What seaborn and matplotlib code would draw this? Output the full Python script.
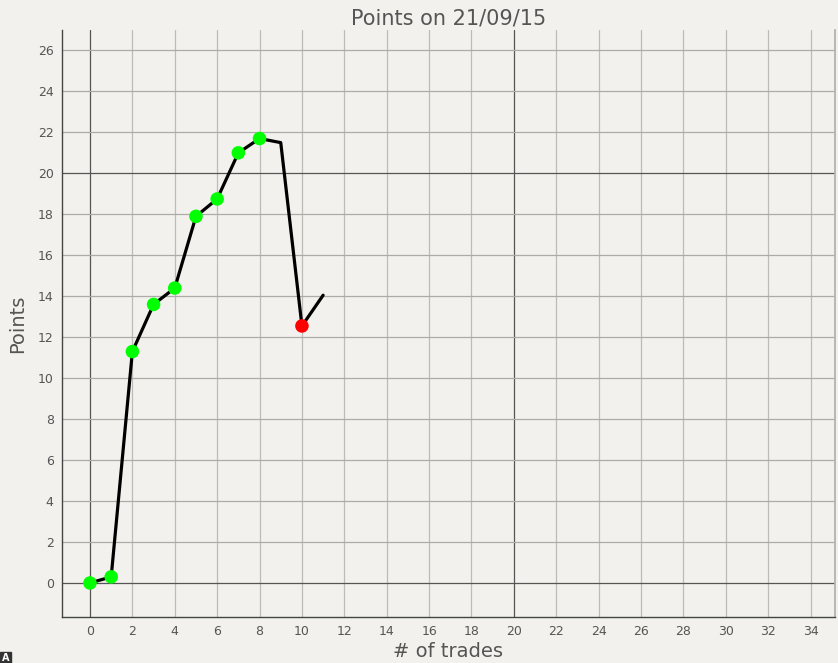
import numpy as np
import pandas as pd
import seaborn as sns
import matplotlib.pyplot as plt

# points per trade number
trades = [0, 1, 2, 3, 4, 5, 6, 7, 8, 9, 10, 11]
points = [0.0, 0.3, 11.3, 13.6, 14.4, 17.9, 18.75, 21.0, 21.7, 21.5, 12.55, 14.05]
# which points get a marker, and its colour
marker_idx = [0, 1, 2, 3, 4, 5, 6, 7, 8, 10]
marker_col = ["win", "win", "win", "win", "win", "win", "win", "win", "win", "loss"]
xticks = list(range(0, 36, 2))
yticks = list(range(0, 28, 2))

bg = "#f2f1ed"
sns.set_theme(style="white")
plt.rcParams['font.family'] = ['DejaVu Sans']

fig = plt.figure(figsize=(8.38, 6.63), dpi=100, facecolor=bg)
ax = fig.add_axes([0.074, 0.0694, 0.9224, 0.8854])
ax.set_facecolor(bg)

df = pd.DataFrame({"trade": trades, "points": points})
mk = df.iloc[marker_idx].copy()
mk["kind"] = marker_col

# grid
for x in xticks:
    ax.axvline(x, color="#555555" if x in (0, 20) else "#bcbbb7", lw=0.9, zorder=0)
for y in yticks:
    ax.axhline(y, color="#555555" if y in (0, 20) else "#acaba7", lw=0.9, zorder=0)

sns.lineplot(data=df, x="trade", y="points", color="black", lw=2.3, ax=ax, zorder=2)
sns.scatterplot(data=mk, x="trade", y="points", hue="kind",
                palette={"win": "#00ff00", "loss": "#ff0000"},
                s=95, edgecolor="none", legend=False, ax=ax, zorder=3)

ax.set_xlim(-1.32, 35.15)
ax.set_ylim(-1.66, 27)
ax.set_xticks(xticks)
ax.set_yticks(yticks)
ax.tick_params(length=0, labelsize=9, colors="#555555", pad=6)

for s in ["left", "bottom"]:
    ax.spines[s].set_color("#444444")
    ax.spines[s].set_linewidth(1)
ax.spines["top"].set_visible(False)
ax.spines["right"].set_color("#b0b0b0")

ax.set_xlabel("# of trades", fontsize=14, color="#555555", labelpad=3)
ax.set_ylabel("Points", fontsize=14, color="#555555", labelpad=8)
ax.set_title("Points on 21/09/15", fontsize=15, color="#555555", pad=4)

fig.text(0.002, 0.003, "A", fontsize=7, color="white", fontweight="bold",
         bbox=dict(boxstyle="square,pad=0.15", fc="#333333", ec="#333333"))

fig.savefig("out.png", dpi=100, facecolor=bg)
